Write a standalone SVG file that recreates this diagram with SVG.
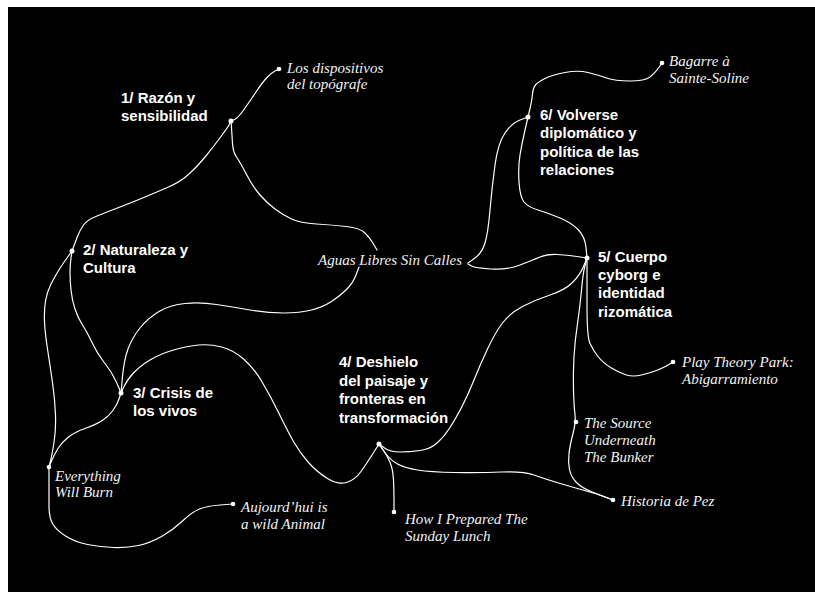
<svg xmlns="http://www.w3.org/2000/svg" width="815" height="592" viewBox="0 0 815 592">
<style>
.bg{fill:#000}
.c{fill:none;stroke:#fff;stroke-width:1.2;stroke-linecap:round;stroke-linejoin:round}
.d{fill:#fff}
.h{font-family:"Liberation Sans",Arial,sans-serif;font-weight:bold;font-size:15px;fill:#fff}
.l{font-family:"Liberation Serif","Times New Roman",serif;font-style:italic;font-size:15px;fill:#f2f2f2}
</style>
<rect width="815" height="592" fill="#fff"/>
<rect class="bg" x="8" y="7" width="807" height="585"/>
<g id="connectors">
<path class="c" d="M231,121 L234.5,119.5 Q238,118 244,109.5 Q250,101 256,92 Q262,83 266.5,78 Q271,73 275,71 L279,69"/>
<path class="c" d="M231,121 L229.5,124 Q228,127 221,136.5 Q214,146 205.5,156.5 Q197,167 188.5,174.5 Q180,182 168.5,187 Q157,192 145,197 Q133,202 120,207 Q107,212 97,216 Q87,220 83.5,225 Q80,230 77.5,236.5 Q75,243 73.5,247 L72,251"/>
<path class="c" d="M231,121 L231.5,128 Q232,135 232.5,143.5 Q233,152 236.5,157 Q240,162 246.5,174.5 Q253,187 260,195 Q267,203 275,209 Q283,215 291.5,219 Q300,223 316.5,224 Q333,225 346.5,226.5 Q360,228 365,233 Q370,238 373.5,244 L377,250"/>
<path class="c" d="M359,267 L356,275 Q353,283 346.5,289.5 Q340,296 331.5,301.5 Q323,307 311.5,310 Q300,313 283.5,313 Q267,313 250,310 Q233,307 216.5,304.5 Q200,302 185,303.5 Q170,305 159,311.5 Q148,318 140,328 Q132,338 128,349 Q124,360 122.5,376.5 L121,393"/>
<path class="c" d="M72,251 L71,258 Q70,265 70,272.5 Q70,280 71,290 Q72,300 75,309 Q78,318 82.5,325 Q87,332 92,342.5 Q97,353 103.5,361.5 Q110,370 113.5,376.5 Q117,383 119,388 L121,393"/>
<path class="c" d="M72,251 L68,256.5 Q64,262 59.5,269 Q55,276 51,284 Q47,292 45.5,301 Q44,310 44.5,321.5 Q45,333 47.5,349 Q50,365 52.5,382.5 Q55,400 55.5,415 Q56,430 54,442.5 Q52,455 50.5,461 L49,467"/>
<path class="c" d="M121,393 L119,399 Q117,405 112.5,411 Q108,417 101.5,421 Q95,425 85,428.5 Q75,432 68.5,437 Q62,442 58,448.5 Q54,455 51.5,461 L49,467"/>
<path class="c" d="M49,467 L49,481 Q49,495 49,506 Q49,517 52.5,523.5 Q56,530 65.5,536 Q75,542 87.5,544.5 Q100,547 113.5,547.5 Q127,548 138.5,545.5 Q150,543 161.5,536.5 Q173,530 182.5,521 Q192,512 199.5,509 Q207,506 220,505 L233,504"/>
<path class="c" d="M121,393 L124,386.5 Q127,380 133.5,373 Q140,366 150,360 Q160,354 173.5,350 Q187,346 198.5,345 Q210,344 221.5,347 Q233,350 243,358.5 Q253,367 261.5,381 Q270,395 278.5,412.5 Q287,430 293.5,441.5 Q300,453 308.5,462.5 Q317,472 327.5,478.5 Q338,485 346.5,482.5 Q355,480 361,471.5 Q367,463 373,453.5 L379,444"/>
<path class="c" d="M379,444 L384.5,448 Q390,452 400,452 Q410,452 420,450.5 Q430,449 436.5,443.5 Q443,438 449,429 Q455,420 461.5,407.5 Q468,395 474,380 Q480,365 487.5,349 Q495,333 502.5,323 Q510,313 522.5,306.5 Q535,300 550,295 Q565,290 572.5,282.5 Q580,275 583.5,266.5 L587,258"/>
<path class="c" d="M379,444 L384.5,452 Q390,460 397.5,464 Q405,468 417.5,470 Q430,472 455,472.5 Q480,473 501.5,472 Q523,471 534,475 Q545,479 558.5,483 Q572,487 584.5,490.5 Q597,494 605,497 L613,500"/>
<path class="c" d="M379,444 L383.5,450.5 Q388,457 390.5,463.5 Q393,470 393.5,480 Q394,490 394,501 L394,512"/>
<path class="c" d="M587,258 L585,265.5 Q583,273 581.5,290 Q580,307 577.5,323.5 Q575,340 574,356.5 Q573,373 573.5,390 Q574,407 575,414.5 Q576,422 573,433.5 Q570,445 569,453.5 Q568,462 569.5,469.5 Q571,477 576.5,482.5 Q582,488 591,491.5 Q600,495 606.5,497.5 L613,500"/>
<path class="c" d="M587,258 L587,266.5 Q587,275 587,306 Q587,337 590,343.5 Q593,350 598,356.5 Q603,363 611.5,368 Q620,373 626.5,375 Q633,377 641.5,375 Q650,373 656.5,370.5 Q663,368 668,365 L673,362"/>
<path class="c" d="M468,264 L471.5,266 Q475,268 491,269 Q507,270 520,265 Q533,260 540,257 Q547,254 557,254.5 Q567,255 577,256.5 L587,258"/>
<path class="c" d="M468,263 L475,258 Q482,253 485,243 Q488,233 490,210 Q492,187 495,165 Q498,143 505,133 Q512,123 520,120 L528,117"/>
<path class="c" d="M528,117 L525,130 Q522,143 520,155 Q518,167 519,182 Q520,197 524,202 Q528,207 538,210 Q548,213 560,218 Q572,223 578.5,230 Q585,237 586,247.5 L587,258"/>
<path class="c" d="M528,117 L530,108.5 Q532,100 532.5,94 Q533,88 535.5,85 Q538,82 545,78.5 Q552,75 565,72.5 Q578,70 588,72.5 Q598,75 606.5,78 Q615,81 630,81 Q645,81 650,77 Q655,73 658.5,68 L662,63"/>
</g>
<g id="n1"><circle class="d" cx="231" cy="121" r="2.5"/><text class="h" x="121" y="103">1/ Razón y</text><text class="h" x="121" y="121">sensibilidad</text></g>
<g id="n2"><circle class="d" cx="72" cy="251" r="2.5"/><text class="h" x="83" y="255">2/ Naturaleza y</text><text class="h" x="83" y="273">Cultura</text></g>
<g id="n3"><circle class="d" cx="121" cy="393" r="2.5"/><text class="h" x="133" y="398">3/ Crisis de</text><text class="h" x="133" y="416">los vivos</text></g>
<g id="n4"><circle class="d" cx="379" cy="444" r="2.5"/><text class="h" x="339" y="367">4/ Deshielo</text><text class="h" x="339" y="385.5">del paisaje y</text><text class="h" x="339" y="404">fronteras en</text><text class="h" x="339" y="422.5">transformación</text></g>
<g id="n5"><circle class="d" cx="587" cy="258" r="2.5"/><text class="h" x="598" y="262">5/ Cuerpo</text><text class="h" x="598" y="280">cyborg e</text><text class="h" x="598" y="298">identidad</text><text class="h" x="598" y="316.5">rizomática</text></g>
<g id="n6"><circle class="d" cx="528" cy="117" r="2.5"/><text class="h" x="540" y="120">6/ Volverse</text><text class="h" x="540" y="138">diplomático y</text><text class="h" x="540" y="156.5">política de las</text><text class="h" x="540" y="174.5">relaciones</text></g>
<g id="los-dispositivos"><circle class="d" cx="279" cy="69" r="2.3"/><text class="l" x="287" y="73">Los dispositivos</text><text class="l" x="287" y="89">del topógrafe</text></g>
<g id="bagarre"><circle class="d" cx="662" cy="63" r="2.3"/><text class="l" x="669" y="66">Bagarre à</text><text class="l" x="669" y="83">Sainte-Soline</text></g>
<g id="aguas"><text class="l" x="318" y="265">Aguas Libres Sin Calles</text></g>
<g id="play"><circle class="d" cx="673" cy="362" r="2.3"/><text class="l" x="682" y="367">Play Theory Park:</text><text class="l" x="682" y="384">Abigarramiento</text></g>
<g id="source"><circle class="d" cx="576" cy="422" r="2.3"/><text class="l" x="584" y="428">The Source</text><text class="l" x="584" y="445">Underneath</text><text class="l" x="584" y="462">The Bunker</text></g>
<g id="historia"><circle class="d" cx="613" cy="500" r="2.3"/><text class="l" x="621" y="506">Historia de Pez</text></g>
<g id="how"><circle class="d" cx="394" cy="512" r="2.3"/><text class="l" x="405" y="524">How I Prepared The</text><text class="l" x="405" y="541">Sunday Lunch</text></g>
<g id="everything"><circle class="d" cx="49" cy="467" r="2.3"/><text class="l" x="55" y="481">Everything</text><text class="l" x="55" y="497">Will Burn</text></g>
<g id="aujourdhui"><circle class="d" cx="233" cy="504" r="2.3"/><text class="l" x="241" y="512">Aujourd’hui is</text><text class="l" x="241" y="529">a wild Animal</text></g>
</svg>
